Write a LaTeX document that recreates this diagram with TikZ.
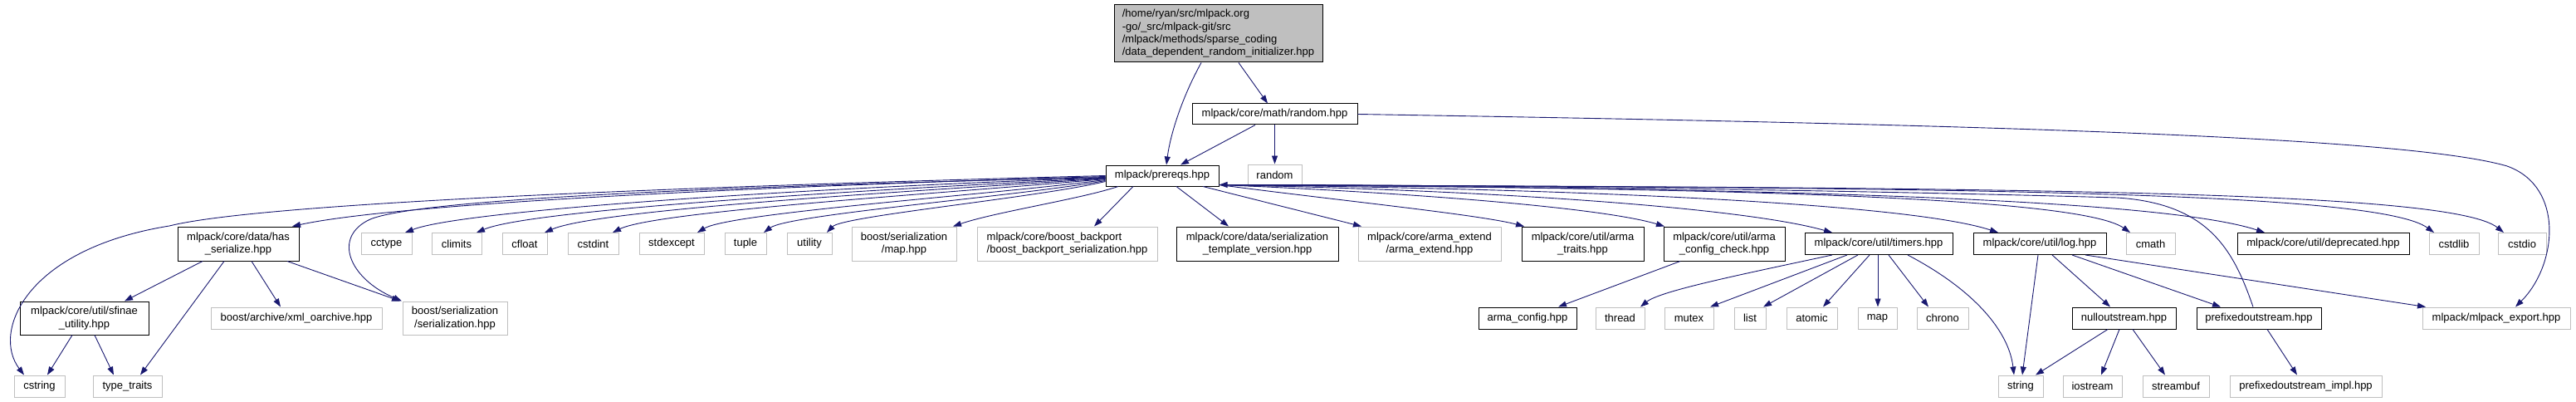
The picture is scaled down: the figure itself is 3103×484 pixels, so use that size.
\documentclass[tikz,border=0pt]{standalone}
\usepackage{fontspec}
\setmainfont{Liberation Sans}
\usetikzlibrary{arrows.meta,calc}
\definecolor{edgec}{HTML}{191970}
\definecolor{grayb}{HTML}{BFBFBF}
\definecolor{grayf}{HTML}{BFBFBF}
\begin{document}
\begin{tikzpicture}[x=1pt,y=-1pt,
  box/.style={draw=black, line width=1pt, inner sep=0pt, align=center, font=\fontsize{13}{15.3}\selectfont},
  gbox/.style={box, draw=grayb},
  e/.style={draw=edgec, line width=0.9pt, -{Triangle[length=10pt,width=7pt]}}]
\useasboundingbox (0,0) rectangle (3103,484);

% nodes
\node[box,fill=grayf,align=left,minimum width=251,minimum height=69] (root) at (1467.5,40.5)
  {/home/ryan/src/mlpack.org\\-go/\_src/mlpack-git/src\\/mlpack/methods/sparse\_coding\\/data\_dependent\_random\_initializer.hpp};
\node[box,minimum width=199,minimum height=25] (random) at (1535.5,137.5) {mlpack/core/math/random.hpp};
\node[box,minimum width=136,minimum height=25] (prereqs) at (1400,211.5) {mlpack/prereqs.hpp};
\node[gbox,minimum width=65,minimum height=26] (stdrandom) at (1535.5,211) {random};

% row 1
\node[box,minimum width=146,minimum height=41] (has) at (287,293.5) {mlpack/core/data/has\\\_serialize.hpp};
\node[gbox,minimum width=61,minimum height=26] (cctype) at (465.5,293.5) {cctype};
\node[gbox,minimum width=60,minimum height=26] (climits) at (550,293.5) {climits};
\node[gbox,minimum width=54,minimum height=26] (cfloat) at (632,293.5) {cfloat};
\node[gbox,minimum width=61,minimum height=26] (cstdint) at (714.5,293.5) {cstdint};
\node[gbox,minimum width=78,minimum height=26] (stdexcept) at (809,293.5) {stdexcept};
\node[gbox,minimum width=50,minimum height=26] (tuple) at (898,293.5) {tuple};
\node[gbox,minimum width=54,minimum height=26] (utility) at (975,293.5) {utility};
\node[gbox,minimum width=126,minimum height=41] (bsmap) at (1089,293.5) {boost/serialization\\/map.hpp};
\node[gbox,align=left,minimum width=217,minimum height=41] (backport) at (1285.5,293.5) {mlpack/core/boost\_backport\\/boost\_backport\_serialization.hpp};
\node[box,minimum width=195,minimum height=41] (tmplver) at (1514.5,293.5) {mlpack/core/data/serialization\\\_template\_version.hpp};
\node[gbox,minimum width=172,minimum height=41] (armaext) at (1722,293.5) {mlpack/core/arma\_extend\\/arma\_extend.hpp};
\node[box,minimum width=147,minimum height=41] (armatraits) at (1906.5,293.5) {mlpack/core/util/arma\\\_traits.hpp};
\node[box,minimum width=146,minimum height=41] (armacheck) at (2077,293.5) {mlpack/core/util/arma\\\_config\_check.hpp};
\node[box,minimum width=178,minimum height=26] (timers) at (2263,293.5) {mlpack/core/util/timers.hpp};
\node[box,minimum width=160,minimum height=26] (log) at (2457,293.5) {mlpack/core/util/log.hpp};
\node[gbox,minimum width=59,minimum height=26] (cmath) at (2590.5,293.5) {cmath};
\node[box,minimum width=207,minimum height=26] (deprecated) at (2798.5,293.5) {mlpack/core/util/deprecated.hpp};
\node[gbox,minimum width=60,minimum height=26] (cstdlib) at (2956,293.5) {cstdlib};
\node[gbox,minimum width=58,minimum height=26] (cstdio) at (3038,293.5) {cstdio};

% row 2
\node[box,minimum width=155,minimum height=40] (sfinae) at (101.5,383) {mlpack/core/util/sfinae\\\_utility.hpp};
\node[gbox,minimum width=206,minimum height=26] (xmlo) at (357,383) {boost/archive/xml\_oarchive.hpp};
\node[gbox,minimum width=126,minimum height=40] (bsser) at (548,383) {boost/serialization\\/serialization.hpp};
\node[box,minimum width=118,minimum height=26] (armaconfig) at (1840,383) {arma\_config.hpp};
\node[gbox,minimum width=59,minimum height=26] (thread) at (1951.5,383) {thread};
\node[gbox,minimum width=59,minimum height=26] (mutex) at (2034.5,383) {mutex};
\node[gbox,minimum width=38,minimum height=26] (list) at (2108,383) {list};
\node[gbox,minimum width=61,minimum height=26] (atomic) at (2182.5,383) {atomic};
\node[gbox,minimum width=47,minimum height=26] (map) at (2261.5,383) {map};
\node[gbox,minimum width=62,minimum height=26] (chrono) at (2340,383) {chrono};
\node[box,minimum width=125,minimum height=26] (nullos) at (2558.5,383) {nulloutstream.hpp};
\node[box,minimum width=150,minimum height=26] (prefos) at (2721,383) {prefixedoutstream.hpp};
\node[gbox,minimum width=178,minimum height=26] (export) at (3007,383) {mlpack/mlpack\_export.hpp};

% row 3
\node[gbox,minimum width=61,minimum height=26] (cstring) at (47.5,465) {cstring};
\node[gbox,minimum width=83,minimum height=26] (typetraits) at (153.5,465) {type\_traits};
\node[gbox,minimum width=54,minimum height=26] (string) at (2434,465) {string};
\node[gbox,minimum width=71,minimum height=26] (iostream) at (2520.5,465) {iostream};
\node[gbox,minimum width=80,minimum height=26] (streambuf) at (2621,465) {streambuf};
\node[gbox,minimum width=183,minimum height=26] (prefimpl) at (2777.5,465) {prefixedoutstream\_impl.hpp};

% edges: root and random
\draw[e] (1447,0 |- root.south) .. controls (1425,115) and (1410,160) .. (1405,0 |- prereqs.north);
\draw[e] (1492,0 |- root.south) -- (1527,0 |- random.north);
\draw[e] (1512,0 |- random.south) -- (1422,0 |- prereqs.north);
\draw[e] (random.south) -- (stdrandom.north);
\draw[e] (random.east) .. controls (2400,150) and (2900,165) .. (3020,200) .. controls (3090,225) and (3080,320) .. (3030,0 |- export.north);

% prereqs fan to the left
\draw[e] (prereqs.west) .. controls (700,228) and (300,248) .. (204,272) .. controls (30,300) and (-10,400) .. (29,0 |- cstring.north);
\draw[e] ($(prereqs.west)+(0,1)$) .. controls (900,225) and (480,245) .. (352,0 |- has.north);
\draw[e] ($(prereqs.west)+(0,2)$) .. controls (800,226) and (500,242) .. (446,264) .. controls (400,285) and (420,335) .. (484,0 |- bsser.north);
\draw[e] ($(prereqs.west)+(0,2.5)$) .. controls (1000,225) and (560,252) .. (488,0 |- cctype.north);
\draw[e] ($(prereqs.west)+(0,3)$) .. controls (1050,228) and (640,252) .. (574,0 |- climits.north);
\draw[e] ($(prereqs.west)+(0,3.5)$) .. controls (1100,230) and (720,252) .. (656,0 |- cfloat.north);
\draw[e] ($(prereqs.west)+(0,4)$) .. controls (1150,232) and (790,254) .. (738,0 |- cstdint.north);
\draw[e] ($(prereqs.west)+(0,5)$) .. controls (1200,234) and (880,256) .. (840,0 |- stdexcept.north);
\draw[e] ($(prereqs.west)+(0,6)$) .. controls (1230,236) and (950,258) .. (920,0 |- tuple.north);
\draw[e] ($(prereqs.west)+(0,7)$) .. controls (1250,238) and (1015,260) .. (996,0 |- utility.north);
\draw[e] (1347,0 |- prereqs.south) .. controls (1300,240) and (1200,255) .. (1148,0 |- bsmap.north);
\draw[e] (1365,0 |- prereqs.south) -- (1318,0 |- backport.north);
\draw[e] (1417,0 |- prereqs.south) -- (1480,0 |- tmplver.north);
\draw[e] (1449,0 |- prereqs.south) -- (1640,0 |- armaext.north);

% prereqs fan to the right (leaving from the lower right corner, under "random")
\coordinate (pse) at ($(prereqs.south east)+(0,-2)$);
\draw[e] (pse) .. controls (1600,240) and (1780,258) .. (1836,0 |- armatraits.north);
\draw[e] (pse) .. controls (1700,232) and (1930,250) .. (2005,0 |- armacheck.north);
\draw[e] (pse) .. controls (1800,229) and (2100,250) .. (2207,0 |- timers.north);
\draw[e] (pse) .. controls (1900,227) and (2300,245) .. (2407,0 |- log.north);
\draw[e] (pse) .. controls (2000,226) and (2500,234) .. (2566,0 |- cmath.north);
\draw[e] (pse) .. controls (2100,226) and (2600,238) .. (2728,0 |- deprecated.north);
\draw[e] (pse) .. controls (2300,226) and (2860,228) .. (2932,0 |- cstdlib.north);
\draw[e] (pse) .. controls (2400,226) and (2950,228) .. (3016,0 |- cstdio.north);
\draw[e] (2714,0 |- prefos.north) .. controls (2690,300) and (2660,245) .. (2550,238) .. controls (2200,228) and (1700,222) .. (pse);

% has_serialize
\draw[e] (244,0 |- has.south) -- (150,0 |- sfinae.north);
\draw[e] (270,0 |- has.south) -- (169,0 |- typetraits.north);
\draw[e] (303,0 |- has.south) -- (338,0 |- xmlo.north);
\draw[e] (346,0 |- has.south) -- (482,0 |- bsser.north);
% sfinae
\draw[e] (87,0 |- sfinae.south) -- (57,0 |- cstring.north);
\draw[e] (114,0 |- sfinae.south) -- (137,0 |- typetraits.north);
% arma_config_check
\draw[e] (2024,0 |- armacheck.south) -- (1877,0 |- armaconfig.north);
% timers
\draw[e] (2207,0 |- timers.south) .. controls (2100,330) and (2000,350) .. (1976,0 |- thread.north);
\draw[e] (2225,0 |- timers.south) -- (2060,0 |- mutex.north);
\draw[e] (2238,0 |- timers.south) -- (2124,0 |- list.north);
\draw[e] (2252,0 |- timers.south) -- (2196,0 |- atomic.north);
\draw[e] (2262,0 |- timers.south) -- (2262,0 |- map.north);
\draw[e] (2275,0 |- timers.south) -- (2323,0 |- chrono.north);
\draw[e] (2298,0 |- timers.south) .. controls (2380,350) and (2420,400) .. (2426,0 |- string.north);
% log
\draw[e] (2455,0 |- log.south) -- (2436,0 |- string.north);
\draw[e] (2472,0 |- log.south) -- (2542,0 |- nullos.north);
\draw[e] (2496,0 |- log.south) -- (2675,0 |- prefos.north);
\draw[e] (2512,0 |- log.south) -- (2922,0 |- export.north);
% nulloutstream
\draw[e] (2539,0 |- nullos.south) -- (2452,0 |- string.north);
\draw[e] (2553,0 |- nullos.south) -- (2531,0 |- iostream.north);
\draw[e] (2569,0 |- nullos.south) -- (2608,0 |- streambuf.north);
% prefixedoutstream
\draw[e] (2731,0 |- prefos.south) -- (2767,0 |- prefimpl.north);
\end{tikzpicture}
\end{document}
